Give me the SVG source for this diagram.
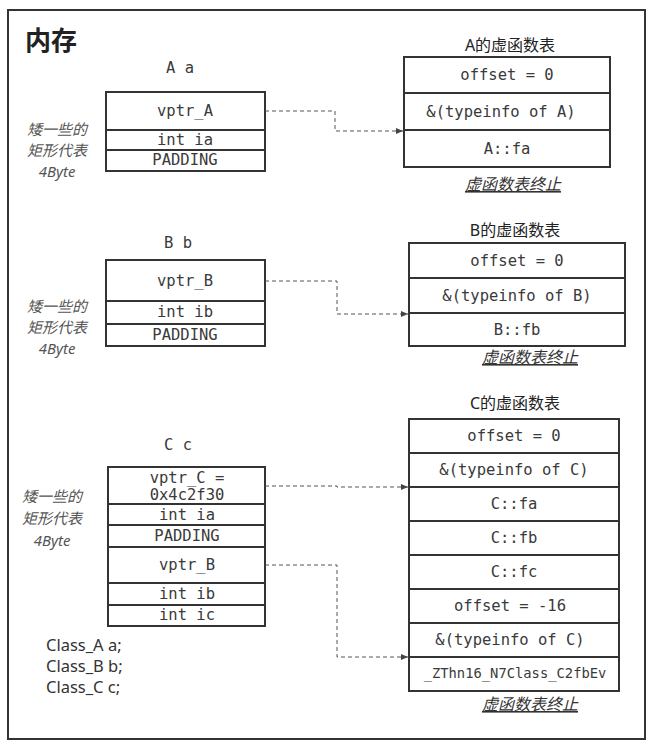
<svg xmlns="http://www.w3.org/2000/svg" width="652" height="751" viewBox="0 0 652 751">
<defs>
<style>
.frame{fill:#fff;stroke:#333;stroke-width:2}
.box{fill:#fff;stroke:#333;stroke-width:2}
.mono{font-family:"DejaVu Sans Mono","Liberation Mono",monospace;font-size:15.5px;fill:#3a3a3a;text-anchor:middle}
.sm{font-size:13.8px}
.cap{font-family:"Noto Sans","Noto Sans CJK SC",sans-serif;font-size:16px;fill:#222;text-anchor:middle}
.end{font-family:"Noto Sans","Noto Sans CJK SC",sans-serif;font-size:16px;fill:#333;text-anchor:middle;font-style:italic;text-decoration:underline}
.side{font-family:"Noto Sans","Noto Sans CJK SC",sans-serif;font-size:15px;fill:#555;text-anchor:middle;font-style:italic}
.code{font-family:"Noto Sans","Noto Sans CJK SC",sans-serif;font-size:16.5px;fill:#333}
.conn{fill:none;stroke:#555;stroke-width:1;stroke-dasharray:4 3}
</style>
<marker id="arr" markerWidth="8" markerHeight="8" refX="7" refY="4" orient="auto" markerUnits="userSpaceOnUse">
<path d="M0,1 L7,4 L0,7 Z" fill="#444"/>
</marker>
</defs>
<rect x="0" y="0" width="652" height="751" fill="#fff"/>
<rect class="frame" x="8" y="10" width="637" height="729"/>
<text x="25" y="50" font-family="Noto Sans CJK SC,sans-serif" font-size="26" font-weight="bold" fill="#222">内存</text>

<g id="side-notes">
<text class="side" x="57" y="135">矮一些的</text>
<text class="side" x="57" y="156">矩形代表</text>
<text class="side" x="57" y="177">4Byte</text>
<text class="side" x="57" y="312">矮一些的</text>
<text class="side" x="57" y="333">矩形代表</text>
<text class="side" x="57" y="354">4Byte</text>
<text class="side" x="52" y="502">矮一些的</text>
<text class="side" x="52" y="524">矩形代表</text>
<text class="side" x="52" y="546">4Byte</text>
</g>

<g id="obj-a">
<text class="mono" x="180" y="73">A a</text>
<rect class="box" x="106" y="92" width="159" height="79"/>
<line x1="106" y1="130" x2="265" y2="130" stroke="#333" stroke-width="2"/>
<line x1="106" y1="150" x2="265" y2="150" stroke="#333" stroke-width="2"/>
<text class="mono" x="185" y="116">vptr_A</text>
<text class="mono" x="185" y="145">int ia</text>
<text class="mono" x="185" y="165">PADDING</text>
</g>

<g id="vtbl-a">
<text class="cap" x="510" y="51">A的虚函数表</text>
<rect class="box" x="404" y="57" width="206" height="110"/>
<line x1="404" y1="93" x2="610" y2="93" stroke="#333" stroke-width="2"/>
<line x1="404" y1="130" x2="610" y2="130" stroke="#333" stroke-width="2"/>
<text class="mono" x="507" y="80">offset = 0</text>
<text class="mono" x="501" y="117">&amp;(typeinfo of A)</text>
<text class="mono" x="507" y="154">A::fa</text>
<text class="end" x="513" y="190">虚函数表终止</text>
</g>

<g id="obj-b">
<text class="mono" x="178" y="248">B b</text>
<rect class="box" x="106" y="260" width="159" height="86"/>
<line x1="106" y1="301" x2="265" y2="301" stroke="#333" stroke-width="2"/>
<line x1="106" y1="324" x2="265" y2="324" stroke="#333" stroke-width="2"/>
<text class="mono" x="185" y="286">vptr_B</text>
<text class="mono" x="185" y="317">int ib</text>
<text class="mono" x="185" y="340">PADDING</text>
</g>

<g id="vtbl-b">
<text class="cap" x="515" y="236">B的虚函数表</text>
<rect class="box" x="409" y="243" width="216" height="103"/>
<line x1="409" y1="278" x2="625" y2="278" stroke="#333" stroke-width="2"/>
<line x1="409" y1="313" x2="625" y2="313" stroke="#333" stroke-width="2"/>
<text class="mono" x="517" y="266">offset = 0</text>
<text class="mono" x="517" y="301">&amp;(typeinfo of B)</text>
<text class="mono" x="517" y="335">B::fb</text>
<text class="end" x="530" y="363">虚函数表终止</text>
</g>

<g id="obj-c">
<text class="mono" x="178" y="450">C c</text>
<rect class="box" x="108" y="467" width="157" height="159"/>
<line x1="108" y1="504" x2="265" y2="504" stroke="#333" stroke-width="2"/>
<line x1="108" y1="525" x2="265" y2="525" stroke="#333" stroke-width="2"/>
<line x1="108" y1="547" x2="265" y2="547" stroke="#333" stroke-width="2"/>
<line x1="108" y1="583" x2="265" y2="583" stroke="#333" stroke-width="2"/>
<line x1="108" y1="605" x2="265" y2="605" stroke="#333" stroke-width="2"/>
<text class="mono" x="187" y="483">vptr_C =</text>
<text class="mono" x="187" y="500">0x4c2f30</text>
<text class="mono" x="187" y="520">int ia</text>
<text class="mono" x="187" y="541">PADDING</text>
<text class="mono" x="187" y="570">vptr_B</text>
<text class="mono" x="187" y="599">int ib</text>
<text class="mono" x="187" y="620">int ic</text>
</g>

<g id="vtbl-c">
<text class="cap" x="515" y="409">C的虚函数表</text>
<rect class="box" x="409" y="419" width="210" height="272"/>
<line x1="409" y1="453" x2="619" y2="453" stroke="#333" stroke-width="2"/>
<line x1="409" y1="487" x2="619" y2="487" stroke="#333" stroke-width="2"/>
<line x1="409" y1="521" x2="619" y2="521" stroke="#333" stroke-width="2"/>
<line x1="409" y1="555" x2="619" y2="555" stroke="#333" stroke-width="2"/>
<line x1="409" y1="589" x2="619" y2="589" stroke="#333" stroke-width="2"/>
<line x1="409" y1="623" x2="619" y2="623" stroke="#333" stroke-width="2"/>
<line x1="409" y1="657" x2="619" y2="657" stroke="#333" stroke-width="2"/>
<text class="mono" x="514" y="441">offset = 0</text>
<text class="mono" x="514" y="475">&amp;(typeinfo of C)</text>
<text class="mono" x="514" y="509">C::fa</text>
<text class="mono" x="514" y="543">C::fb</text>
<text class="mono" x="514" y="577">C::fc</text>
<text class="mono" x="510" y="611">offset = -16</text>
<text class="mono" x="510" y="645">&amp;(typeinfo of C)</text>
<text class="mono sm" x="515" y="678">_ZThn16_N7Class_C2fbEv</text>
<text class="end" x="530" y="710">虚函数表终止</text>
</g>

<g id="decls">
<text class="code" x="46" y="651">Class_A a;</text>
<text class="code" x="46" y="672">Class_B b;</text>
<text class="code" x="46" y="693">Class_C c;</text>
</g>

<g id="connectors">
<path class="conn" d="M265,111 H335 V131 H403" marker-end="url(#arr)"/>
<path class="conn" d="M265,281 H337 V314 H408" marker-end="url(#arr)"/>
<path class="conn" d="M265,486 H337 V487 H408" marker-end="url(#arr)"/>
<path class="conn" d="M265,565 H337 V657 H408" marker-end="url(#arr)"/>
</g>
</svg>
